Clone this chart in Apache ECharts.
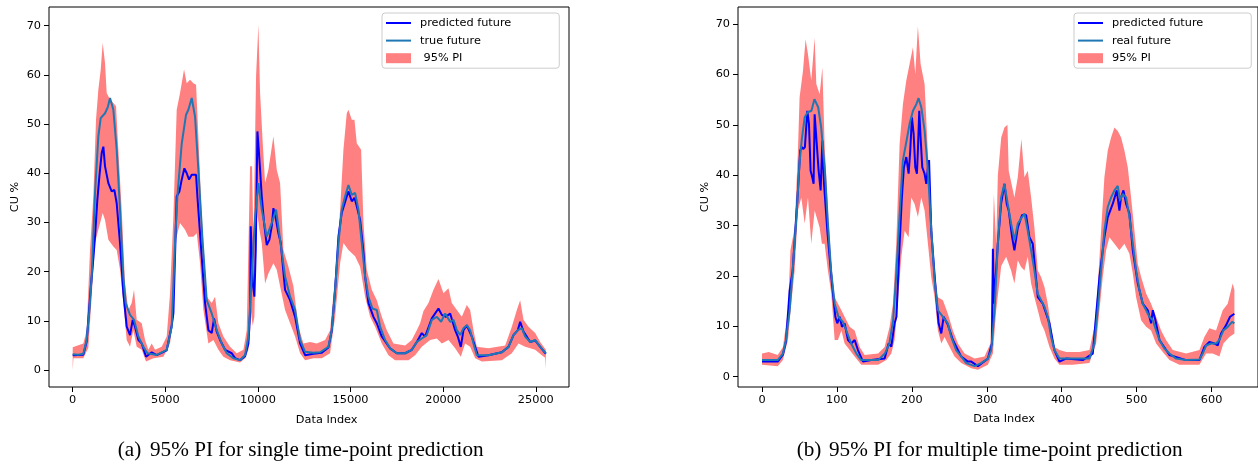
<!DOCTYPE html>
<html>
<head>
<meta charset="utf-8">
<script src="https://cdn.jsdelivr.net/npm/echarts@6/dist/echarts.min.js"></script>
<style>
html,body{margin:0;padding:0;background:#fff;}
#chart{width:1258px;height:464px;}
</style>
</head>
<body>
<div id="chart"></div>
<script>
// ---------- Ticks ----------
const aXTicks = [0, 5000, 10000, 15000, 20000, 25000];
const bXTicks = [0, 100, 200, 300, 400, 500, 600];
const yTicks = [0, 10, 20, 30, 40, 50, 60, 70];

// ---------- Data: panel (a) single time-point prediction ----------
const aTrue = [[0,3.2],[300,3.1],[573,3.3],[753,6.1],[900,12],[1025,19],[1204,36],[1384,47.5],[1510,51.2],[1744,52.2],[1900,53.5],[2014,55.3],[2194,52.9],[2374,44.8],[2554,32.6],[2734,19],[2860,13.6],[3094,11.2],[3310,10.2],[3544,6.8],[3814,4.7],[4030,3.4],[4534,3.05],[5074,4.1],[5344,8.8],[5524,25.8],[5650,35.3],[5884,46],[6118,51.9],[6244,52.9],[6424,55.3],[6604,51.5],[6784,40.7],[7018,25.8],[7234,14.2],[7504,11.5],[7774,8.1],[8044,5.4],[8314,3.4],[8674,2.4],[9034,2.0],[9304,3.05],[9484,6.8],[9664,19],[9844,31.2],[10024,38],[10204,32.6],[10474,27.1],[10744,29.9],[10978,32.6],[11194,26.5],[11464,19],[11734,14.9],[12004,12.2],[12274,6.1],[12544,3.7],[12994,3.5],[13354,3.6],[13804,4.7],[13984,8.1],[14164,16.3],[14344,25.8],[14524,32.6],[14704,35.3],[14884,37.6],[15064,35.6],[15244,36],[15424,32.6],[15604,25.8],[15784,19],[15964,14.9],[16180,12.5],[16414,12.2],[16594,8.8],[16864,6.1],[17134,4.4],[17494,3.4],[17944,3.4],[18304,4.1],[18574,5.7],[18844,6.4],[19114,7.1],[19384,10.2],[19654,10.8],[19888,9.8],[20104,11.5],[20374,9.8],[20554,10.2],[20734,8.1],[20914,7.1],[21094,8.5],[21274,9.1],[21454,8.1],[21634,5.4],[21814,3.0],[22444,3.0],[23164,3.6],[23524,4.7],[23794,7.1],[24028,8.1],[24244,8.5],[24424,6.8],[24694,5.7],[24964,6.1],[25234,4.7],[25540,3.4]];

const aPred = [[0,3.0],[573,3.1],[753,5.8],[900,13],[970,16.6],[1025,17],[1100,22],[1204,27.1],[1330,34.6],[1438,39.3],[1564,44.1],[1654,45.4],[1744,41.4],[1924,38],[2104,36.3],[2248,36.6],[2374,33.9],[2554,25.8],[2734,15.6],[2914,8.8],[3094,7.1],[3238,10.2],[3364,8.8],[3544,6.1],[3724,5.4],[3958,2.7],[4264,3.6],[4534,3.0],[5074,4.0],[5344,9],[5434,11.5],[5614,35.3],[5758,36.3],[5884,38.7],[6028,41.0],[6154,40],[6280,38.7],[6424,39.7],[6658,39.7],[6730,35.3],[6910,25.8],[7144,13.6],[7324,8.1],[7504,7.5],[7630,10.5],[7774,7.8],[7954,6.1],[8224,4.1],[8584,3.4],[8764,2.4],[9034,2.0],[9304,2.8],[9484,5.4],[9580,12],[9610,29.2],[9664,29.2],[9718,17.6],[9808,14.9],[9880,24.4],[9970,48.5],[10042,44.8],[10114,40.7],[10204,35.3],[10330,29.9],[10474,25.4],[10618,26.5],[10744,29.2],[10834,32.9],[10978,30.5],[11104,27.8],[11230,25.8],[11464,16.3],[11734,14.2],[12004,10.8],[12274,5.4],[12544,3.0],[12994,3.3],[13444,3.5],[13804,4.6],[13984,8],[14164,16.3],[14344,27.1],[14524,32],[14794,35.3],[14884,36.3],[15064,34.3],[15208,35],[15334,33.3],[15514,30.5],[15694,24],[15784,19],[15964,13.6],[16234,10.8],[16414,9.5],[16684,6.8],[17134,4.4],[17494,3.4],[17944,3.4],[18304,4.1],[18574,5.7],[18844,7.5],[19024,6.8],[19384,10.5],[19744,12.5],[19924,11.2],[20140,10.8],[20374,11.5],[20644,8.1],[20788,6.8],[20950,4.7],[21094,8.1],[21274,9.1],[21544,6.8],[21904,2.7],[22444,3.0],[23164,3.6],[23524,4.7],[23794,7.1],[24028,8.1],[24154,9.8],[24334,7.8],[24694,5.7],[24964,6.0],[25234,4.7],[25540,3.3]];

const aUpper = [[0,4.6],[573,5.4],[753,8.1],[934,24.4],[1114,35.3],[1258,50.9],[1384,57],[1510,61],[1618,66.5],[1744,62.4],[1834,56.3],[2014,55],[2194,54.3],[2338,53.6],[2464,44.8],[2644,32.6],[2824,17.6],[3004,12.2],[3184,13.6],[3310,16.3],[3454,10.2],[3724,9.5],[3904,6.1],[4084,4.1],[4264,5.4],[4444,4.1],[4804,4.7],[5074,6.8],[5254,15.6],[5434,31.2],[5614,52.9],[5794,56.3],[6010,61.1],[6154,58.3],[6334,59],[6514,58.3],[6658,58],[6784,47.5],[6964,31.2],[7234,14.9],[7504,13.6],[7684,14.9],[7864,9.5],[8134,6.8],[8494,4.7],[8854,3.4],[9214,4.1],[9394,8.1],[9574,41.4],[9682,41.4],[9754,25.8],[9898,59.7],[10024,70.2],[10114,56.3],[10258,46.1],[10384,38],[10564,40.7],[10834,47.5],[11014,40.7],[11194,38],[11374,24.4],[11644,21],[11914,17],[12184,8.8],[12454,5.4],[12814,5.7],[13174,5.4],[13624,6.1],[13894,8.1],[14164,19],[14434,32.6],[14614,44.8],[14794,52.2],[14884,52.9],[15064,50.9],[15208,50.9],[15334,46.1],[15568,44.8],[15694,29.9],[15874,20.4],[16144,16.3],[16414,14.2],[16684,10.8],[16954,8.1],[17314,5.4],[17944,5],[18304,6.1],[18574,8.1],[18754,9.5],[18934,12],[19204,13.6],[19474,16.3],[19744,18.5],[20014,15.6],[20284,16.6],[20464,13.6],[20734,12.2],[21004,10.8],[21274,13.2],[21454,12.2],[21634,8.1],[21814,4.7],[22444,4.4],[23344,5],[23704,8.8],[23974,12.2],[24154,14.2],[24334,10.2],[24604,8.8],[24964,7.5],[25234,5.7],[25540,4.1]];

const aLower = [[0,0],[40,2.4],[573,2.4],[844,4.5],[1025,15],[1114,20.4],[1204,25.8],[1384,28.5],[1618,31.9],[1744,30.5],[1924,26.5],[2194,25.1],[2374,24.4],[2554,20.4],[2734,13.6],[2914,6.1],[3094,4.7],[3274,8.1],[3454,4.7],[3724,4.1],[3958,1.7],[4354,2.4],[4894,2.7],[5254,5.4],[5434,10.5],[5524,25.8],[5794,29.9],[6064,28.5],[6244,27.1],[6514,27.1],[6694,27.8],[6874,21.7],[7054,12.2],[7324,5.4],[7594,6.1],[7864,4.1],[8134,2.7],[8494,2.0],[9034,1.5],[9304,2.4],[9484,4.1],[9580,8],[9610,12],[9718,9],[9808,10.8],[9934,32.6],[10078,28.5],[10204,25.8],[10384,17.6],[10564,19.6],[10834,21.7],[11014,20.4],[11194,17],[11464,12.2],[11734,9.5],[12004,6.8],[12274,3.4],[12544,2.0],[12994,2.4],[13444,2.4],[13894,3.4],[14164,10.8],[14434,21.7],[14614,25.8],[14884,24.4],[15244,23.1],[15514,21],[15784,14.9],[16054,10.8],[16324,8.8],[16684,5.4],[17044,3.0],[17404,2.0],[18124,2.0],[18484,3.0],[18844,4.7],[19294,6.1],[19654,6.4],[19924,5.4],[20284,6.1],[20644,4.4],[20950,2.7],[21184,5.4],[21454,4.7],[21724,2.4],[22084,1.7],[23164,2.0],[23704,3.4],[24064,5.4],[24424,4.7],[24964,4.1],[25324,3.0],[25500,2.5],[25540,0.3]];

// ---------- Data: panel (b) multiple time-point prediction ----------
const bTrue = [[0,3.3],[21,3.3],[28,4.6],[32,7.3],[37,13.2],[41,21.1],[46,31.7],[50,42.3],[53,46.9],[57,51.5],[61,52.5],[66,52.8],[70,55.1],[75,53.5],[79,49.5],[84,40.9],[88,30.4],[92.5,20.6],[97,14.5],[102,11.9],[108,10.9],[112.5,9.2],[119,6.6],[126,4.6],[132.5,3.3],[155,3.3],[164,4.6],[170,6.6],[175,11.2],[179,19.8],[184,33],[188,42.9],[193,46.9],[197,50.2],[201.5,52.8],[206,54.1],[209,55.3],[212.6,53.5],[217,48.9],[221.5,40.9],[226,29],[230.4,19.1],[234.8,13.2],[241.5,11.9],[248,10.6],[252.6,7.9],[259,5.3],[266,4.0],[272.6,2.7],[283.7,2.1],[292.6,2.7],[301.5,3.6],[306,5.3],[310.4,13.2],[314.8,26.4],[319.2,35.6],[323.6,38.3],[328,34.3],[332.5,30.4],[337,27.1],[341.4,30.4],[345.8,31.4],[350.3,32.4],[354.7,29],[359.2,25.1],[363.6,21.1],[368,16.5],[372.5,15.2],[377,13.9],[381.4,11.9],[385.9,7.9],[390.3,5.3],[397,3.6],[437,3.6],[443.7,6.6],[448,13.2],[452.6,21.1],[457,29],[461.5,33.7],[466,35.6],[470.4,37],[474.8,37.9],[478,35],[481.5,36.3],[486,35.6],[490.4,31.7],[494.9,26.4],[499.3,21.1],[503.8,17.2],[508.2,14.5],[512.7,13.2],[517,11.9],[521.6,11.2],[526,9.2],[530.5,7.3],[537,5.6],[543.8,4.6],[552.7,3.6],[566,3.3],[583.8,3.4],[588.2,4.6],[592.7,6.2],[599.3,6.6],[606,6.6],[610.5,7.3],[615.8,9.2],[621.6,9.9],[627.4,10.9],[630.5,10.6]];

const bPred = [[0,3.0],[21,3.0],[28,4.4],[32,7],[37,17.2],[41,21.1],[48,37],[51,44.9],[53.4,45.6],[55,45.2],[57.3,45.6],[60.5,52.8],[62.7,50.2],[64.9,40.9],[67.1,39.6],[68.9,38.3],[70.3,52.1],[72.5,47.5],[75.6,40.9],[78.3,37],[80.6,46.9],[82.8,38.3],[87.2,29],[93.4,18.5],[97.9,11.9],[100.5,10.6],[103.6,11.9],[106.8,9.9],[110.3,10.6],[114.8,7.3],[119.2,6.6],[123.7,7.3],[128.1,5.3],[134.8,3.0],[146,3.3],[163.7,3.6],[169,6.6],[172.6,6],[177,10.6],[179.5,11.9],[183.7,26.4],[186.7,35.6],[189.4,41.6],[192.6,43.6],[195.7,40.3],[197.9,44.9],[200.1,51.5],[202.4,48.2],[204.6,41.6],[206.8,40.3],[208.1,44.9],[209.9,52.8],[211.7,47.5],[213.9,41.6],[217,40.3],[219.3,38.3],[221.5,41.6],[223,43],[225.9,29],[232.6,15.8],[235.7,10.6],[239.3,8.6],[242.4,11.9],[248.1,10.3],[254.8,7.3],[265.9,4.0],[274.8,3.0],[279.3,3.0],[288.2,2.1],[301.5,3.6],[306.9,6.6],[308.2,25.4],[309.5,14.5],[310.4,14.5],[314.8,26.4],[319.1,34.3],[323.6,38.3],[326.7,34.3],[329.3,33],[333.8,27.7],[336.9,25.1],[341.4,29.6],[347.1,32.1],[352.5,32.1],[356.9,27.7],[361.4,26.4],[368.1,15.8],[374.8,14.5],[383.7,10.6],[390.3,5.3],[397,3.0],[405.9,3.6],[428.1,3.3],[441.5,4.6],[450.4,19.8],[457,27.7],[461.5,31.7],[468.1,34.3],[473.5,37],[477,33],[479.3,35.6],[482.4,37],[486,34.3],[490.4,32.4],[494.9,25.1],[501.6,18.5],[508.2,14.5],[514.9,13.2],[519.3,10.6],[521.6,13.2],[525.1,11.2],[530.5,7.3],[543.8,4.3],[566,3.3],[583.8,3.3],[590.4,5.9],[597.1,6.9],[603.8,6.6],[608.2,6.2],[612.7,8.6],[619.3,10.2],[624.7,11.9],[630.5,12.5]];

const bUpper = [[0,4.6],[9,4.9],[21,4.3],[28,5.9],[34.7,13.2],[38,25.1],[43.6,29.6],[48,44.9],[50.2,55.5],[54.7,60.7],[58.2,67],[61.4,64],[65.8,58.8],[70.3,67.3],[72.5,58.1],[77,56.1],[80.6,61.4],[83.6,46.2],[88,33],[92.5,22.4],[97,15.8],[101.4,14.5],[106,13.2],[110.3,11.9],[117,9.9],[123.7,9.2],[130.4,5.9],[137,4.3],[155,4.6],[163.7,5.9],[170.3,9.9],[174.8,14.5],[179.2,26.4],[183.7,46.2],[188.1,54.1],[192.6,58.8],[197,62.1],[201.5,65.4],[204.6,60.1],[208.1,69.6],[211.7,62.1],[217,58.1],[221.5,44.2],[225.9,33],[230.4,21.1],[234.8,15.8],[241.5,15.2],[248.1,12.5],[254.8,9.2],[261.5,6.6],[270.4,4.6],[283.7,3.6],[297,4.0],[305,6.6],[309.5,36.3],[312.6,26.4],[314.8,40],[319.3,47.5],[323.6,49.5],[327.6,50],[329.3,40.9],[336.9,35.6],[341.4,39.6],[346.2,47.2],[350.3,39.6],[354.7,40.9],[359.2,35.6],[363.6,29.6],[368.1,21.1],[372.5,19.8],[377,17.8],[381.4,14.5],[385.9,9.9],[390.3,5.9],[397,5.3],[405.9,4.9],[423.7,4.9],[437,5.3],[443.7,9.9],[448.1,17.8],[452.6,29],[457,39.6],[461.5,44.9],[465.9,47.5],[470.4,49.5],[474.8,48.8],[479.3,47.5],[483.7,44.9],[488.2,41.6],[492.6,35.6],[497.1,29],[501.6,22.4],[506,19.8],[512.7,16.5],[519.3,14.5],[526,11.9],[532.7,9.2],[539.3,7.3],[548.2,5.3],[566,4.6],[583.8,5.3],[590.4,7.9],[597.1,9.6],[606,9.2],[614.9,13.2],[621.6,14.5],[628.2,18.5],[630.5,17.2]];

const bLower = [[0,2.4],[21,2.1],[28,3.3],[34.7,7.3],[39,14.5],[43.6,21.1],[48,33],[52.5,35.6],[57,30.4],[61.4,35.6],[65.8,26.4],[70.3,33],[77,29.6],[80,26.4],[83.6,26.4],[88,21.1],[92.5,16.5],[97,7.3],[101.4,7.3],[106,9.2],[110.3,6.6],[117,5.3],[123.7,4.0],[132.5,2.4],[155,2.4],[166,3.3],[172.6,4.6],[177,7.3],[181.5,15.2],[186,23.8],[190.4,29],[195.7,27.7],[199.2,35.6],[203.7,34.3],[208.1,31.7],[212.6,35.6],[217,33],[221.5,26.4],[225.9,19.8],[230.4,15.8],[234.8,9.2],[239.3,6.6],[243.7,7.9],[250.4,5.9],[257,4.0],[265.9,2.7],[279.3,1.7],[288.2,1.4],[301.5,2.4],[308.2,4.6],[312.6,13.2],[319.3,22],[325.9,23.8],[332.5,21.1],[336.9,18.5],[341.4,23.1],[345.8,21.8],[350.3,21.1],[354.7,23.8],[359.2,18.5],[363.6,15.8],[368.1,13.2],[372.5,10.6],[377,9.2],[383.7,5.9],[390.3,3.6],[397,2.4],[414.8,2.4],[437,2.7],[446,6.6],[450.4,13.2],[454.8,19.8],[459.3,25.1],[463.7,27.7],[470.4,26.4],[477,25.1],[483.7,26.4],[490.4,24.4],[494.9,20.5],[499.3,15.8],[506,11.2],[512.7,9.9],[519.3,9.2],[526,6.6],[534.9,4.9],[543.8,3.3],[557.1,2.4],[583.8,2.4],[592.7,4.6],[601.6,4.6],[610.5,4.0],[615.8,6.6],[623.8,7.9],[630.5,8.6]];

// ---------- Chart ----------
const FONT = 'DejaVu Sans';
const FS = 11.3;
const CAP_FONT = '21.2px "Liberation Serif"';
const PRED_COLOR = '#0000ff';
const TRUE_COLOR = '#1f77b4';
const PI_COLOR = '#ff8080';

function bandRenderer(upper, lower) {
  return function (params, api) {
    if (params.dataIndex !== 0) return null;
    const pts = [];
    for (let i = 0; i < upper.length; i++) pts.push(api.coord(upper[i]));
    for (let i = lower.length - 1; i >= 0; i--) pts.push(api.coord(lower[i]));
    return { type: 'polygon', shape: { points: pts }, style: { fill: PI_COLOR } };
  };
}

function xAxisCfg(gi, min, max, ticks) {
  return {
    type: 'value', gridIndex: gi, min: min, max: max,
    axisLine: { show: false, onZero: false }, splitLine: { show: false },
    axisTick: { show: true, length: 5, customValues: ticks, lineStyle: { color: '#000', width: 1 } },
    axisLabel: { customValues: ticks, formatter: function (v) { return String(v); },
      fontFamily: FONT, fontSize: FS, color: '#000', margin: 8 }
  };
}
function yAxisCfg(gi, min, max) {
  return {
    type: 'value', gridIndex: gi, min: min, max: max,
    axisLine: { show: false, onZero: false }, splitLine: { show: false },
    axisTick: { show: true, length: 5, customValues: yTicks, lineStyle: { color: '#000', width: 1 } },
    axisLabel: { customValues: yTicks, formatter: function (v) { return String(v); },
      fontFamily: FONT, fontSize: FS, color: '#000', margin: 8 }
  };
}
const hideSym = { color: 'rgba(0,0,0,0)', borderColor: 'rgba(0,0,0,0)', borderWidth: 0 };
function legendCfg(left, names) {
  return {
    orient: 'vertical', left: left, top: 13,
    padding: [4, 48, 4, 3], itemGap: 5.6, itemWidth: 25, itemHeight: 10,
    backgroundColor: 'rgba(255,255,255,0.8)', borderColor: '#cccccc', borderWidth: 1, borderRadius: 3,
    textStyle: { fontFamily: FONT, fontSize: FS, color: '#000', lineHeight: 12, padding: [0, 0, 0, 4] },
    selectedMode: false,
    data: [
      { name: names[0], itemStyle: hideSym },
      { name: names[1], itemStyle: hideSym },
      { name: names[2], icon: 'rect' }
    ]
  };
}

const chart = echarts.init(document.getElementById('chart'), null, { renderer: 'canvas' });
chart.setOption({
  animation: false,
  backgroundColor: '#fff',
  grid: [
    { left: 49, top: 7, width: 520, height: 380, show: true, borderColor: '#000', borderWidth: 1, backgroundColor: 'transparent' },
    { left: 738, top: 7, width: 522, height: 380, show: true, borderColor: '#000', borderWidth: 1, backgroundColor: 'transparent' }
  ],
  xAxis: [xAxisCfg(0, -1280, 26790, aXTicks), xAxisCfg(1, -32, 662, bXTicks)],
  yAxis: [yAxisCfg(0, -3.46, 73.8), yAxisCfg(1, -2.04, 73.4)],
  legend: [
    legendCfg(382, ['predicted future', 'true future', ' 95% PI']),
    legendCfg(1074, ['predicted future', 'real future', '95% PI'])
  ],
  series: [
    { type: 'custom', name: ' 95% PI', xAxisIndex: 0, yAxisIndex: 0, data: aUpper, clip: true, z: 1,
      itemStyle: { color: PI_COLOR }, renderItem: bandRenderer(aUpper, aLower) },
    { type: 'line', name: 'predicted future', xAxisIndex: 0, yAxisIndex: 0, data: aPred, symbol: 'none', z: 2,
      lineStyle: { color: PRED_COLOR, width: 2 }, itemStyle: { color: PRED_COLOR } },
    { type: 'line', name: 'true future', xAxisIndex: 0, yAxisIndex: 0, data: aTrue, symbol: 'none', z: 3,
      lineStyle: { color: TRUE_COLOR, width: 2 }, itemStyle: { color: TRUE_COLOR } },
    { type: 'custom', name: '95% PI', xAxisIndex: 1, yAxisIndex: 1, data: bUpper, clip: true, z: 1,
      itemStyle: { color: PI_COLOR }, renderItem: bandRenderer(bUpper, bLower) },
    { type: 'line', name: 'predicted future', xAxisIndex: 1, yAxisIndex: 1, data: bPred, symbol: 'none', z: 2,
      lineStyle: { color: PRED_COLOR, width: 2 }, itemStyle: { color: PRED_COLOR } },
    { type: 'line', name: 'real future', xAxisIndex: 1, yAxisIndex: 1, data: bTrue, symbol: 'none', z: 3,
      lineStyle: { color: TRUE_COLOR, width: 2 }, itemStyle: { color: TRUE_COLOR } }
  ],
  graphic: [
    { type: 'text', x: 15, y: 197, rotation: Math.PI / 2,
      style: { text: 'CU %', font: FS + 'px "' + FONT + '"', fill: '#000', align: 'center', verticalAlign: 'middle' } },
    { type: 'text', x: 705, y: 197, rotation: Math.PI / 2,
      style: { text: 'CU %', font: FS + 'px "' + FONT + '"', fill: '#000', align: 'center', verticalAlign: 'middle' } },
    { type: 'text', x: 326.7, y: 420,
      style: { text: 'Data Index', font: FS + 'px "' + FONT + '"', fill: '#000', align: 'center', verticalAlign: 'middle' } },
    { type: 'text', x: 1004, y: 419,
      style: { text: 'Data Index', font: FS + 'px "' + FONT + '"', fill: '#000', align: 'center', verticalAlign: 'middle' } },
    { type: 'text', x: 117.7, y: 450,
      style: { text: '(a)', font: CAP_FONT, fill: '#000', align: 'left', verticalAlign: 'middle' } },
    { type: 'text', x: 150, y: 450,
      style: { text: '95% PI for single time-point prediction', font: CAP_FONT, fill: '#000', align: 'left', verticalAlign: 'middle' } },
    { type: 'text', x: 796.7, y: 450,
      style: { text: '(b)', font: CAP_FONT, fill: '#000', align: 'left', verticalAlign: 'middle' } },
    { type: 'text', x: 829, y: 450,
      style: { text: '95% PI for multiple time-point prediction', font: CAP_FONT, fill: '#000', align: 'left', verticalAlign: 'middle' } }
  ]
});
</script>
</body>
</html>
